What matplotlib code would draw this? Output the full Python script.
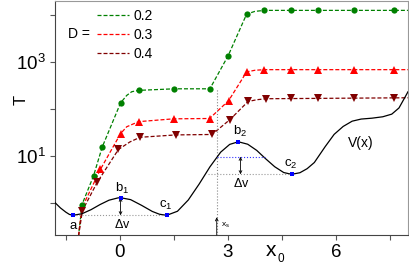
import matplotlib.pyplot as plt
from matplotlib.lines import Line2D
from matplotlib.ticker import FixedLocator, FixedFormatter, NullFormatter

plt.rcParams['font.family'] = 'Liberation Sans'
plt.rcParams['mathtext.fontset'] = 'custom'
plt.rcParams['mathtext.rm'] = 'Liberation Sans'
plt.rcParams['mathtext.it'] = 'Liberation Sans:italic'
plt.rcParams['mathtext.default'] = 'regular'

# T(x0) for D = 0.2, 0.3, 0.4 : markers
g_x = [-1.05, -0.73, -0.49, 0.02, 0.52, 1.51, 2.5, 3.01, 3.52, 4.01, 4.74, 5.5, 6.5, 7.6]
g_T = [0.93, 3.8, 15.5, 135, 250, 270, 270, 1380, 10500, 12600, 12600, 12600, 12600, 12600]
r_x = [-0.54, 0.02, 0.52, 1.49, 2.49, 3.02, 3.52, 4.01, 4.75, 5.5, 6.5, 7.6]
r_T = [5.2, 30, 54, 62, 63, 151, 617, 690, 690, 690, 690, 690]
d_x = [-1.04, -0.63, -0.04, 0.56, 1.56, 2.56, 3.06, 3.56, 4.06, 4.75, 5.5, 6.5, 7.6]
d_T = [0.69, 2.75, 13.8, 25.1, 28.2, 28.8, 60, 145, 166, 174, 174, 174, 174]

# dashed guide curves
g_line_x = [-1.17, -1.05, -0.73, -0.49, 0.02, 0.19, 0.33, 0.52, 1.51, 2.5, 3.01, 3.52, 3.75, 4.01, 8.0]
g_line_T = [0.14, 0.93, 3.8, 15.5, 135, 195, 234, 250, 270, 270, 1380, 10500, 12000, 12600, 12600]
r_line_x = [-1.17, -1.05, -0.54, 0.02, 0.19, 0.52, 1.49, 2.49, 3.02, 3.52, 3.75, 4.01, 8.0]
r_line_T = [0.15, 0.8, 5.2, 30, 42, 54, 62, 63, 151, 617, 670, 690, 690]
d_line_x = [-1.17, -1.04, -0.63, -0.04, 0.28, 0.56, 1.56, 2.56, 3.06, 3.56, 3.8, 4.06, 8.0]
d_line_T = [0.15, 0.69, 2.75, 13.8, 20, 25.1, 28.2, 28.8, 60, 145, 158, 166, 174]

# potential V(x), arbitrary units (depth of first well = 1)
v_x = [-1.8, -1.65, -1.5, -1.4, -1.3, -1.05, -0.8, -0.55, -0.3, -0.05, 0.02, 0.3, 0.6, 0.9,
       1.1, 1.3, 1.6, 1.9, 2.2, 2.5, 2.8, 3.05, 3.29, 3.55, 3.8, 4.05, 4.3, 4.55, 4.77,
       5.0, 5.2, 5.4, 5.7, 5.95, 6.2, 6.45, 6.7, 7.0, 7.3, 7.55, 7.75, 7.9, 8.0]
v_y = [0.72, 0.42, 0.18, 0.05, 0.0, 0.09, 0.32, 0.61, 0.86, 0.99, 1.0, 0.89, 0.57, 0.22,
       0.06, 0.0, 0.23, 0.87, 1.77, 2.75, 3.59, 4.03, 4.18, 4.04, 3.69, 3.21, 2.76, 2.43, 2.33,
       2.42, 2.65, 3.0, 3.9, 4.6, 5.05, 5.35, 5.47, 5.52, 5.6, 5.75, 6.1, 6.65, 7.02]

# points a, b1, c1, b2, c2
pt_names = ['a', 'b$_1$', 'c$_1$', 'b$_2$', 'c$_2$']
pt_x = [-1.3, 0.02, 1.3, 3.29, 4.77]
pt_v = [0.0, 1.0, 0.0, 4.18, 2.33]
x_s = 2.69
dv_level = 3.33

fig = plt.figure(figsize=(4.09, 2.70), dpi=100)
ax = fig.add_axes([0.1345, 0.1296, 0.863, 0.8667])
ax.set_yscale('log')
ax.set_xlim(-1.8, 8.0)
ax.set_ylim(10**-0.68, 10**4.3)

dash = (0, (3.2, 1.6))
ax.plot(g_line_x, g_line_T, color='#008000', ls=dash, lw=0.9)
ax.plot(r_line_x, r_line_T, color='#ff0000', ls=dash, lw=0.9)
ax.plot(d_line_x, d_line_T, color='#800000', ls=dash, lw=0.9)
ax.plot(g_x, g_T, 'o', color='#008000', ms=4.5, mew=0)
ax.plot(r_x, r_T, '^', color='#ff0000', ms=5.5, mew=0)
ax.plot(d_x, d_T, 'v', color='#800000', ms=5.5, mew=0)

# vertical dotted line at x_s
ax.plot([x_s, x_s], [0.1, g_T[5]], color='#888888', ls=':', lw=0.8)

ax.xaxis.set_major_locator(FixedLocator([0, 3, 6]))
ax.xaxis.set_minor_locator(FixedLocator([-1.5, 1.5, 4.5, 7.5]))
ax.yaxis.set_major_locator(FixedLocator([10, 1000]))
ax.yaxis.set_major_formatter(FixedFormatter(['$10^1$', '$10^3$']))
ax.yaxis.set_minor_locator(FixedLocator([1, 100, 10000]))
ax.yaxis.set_minor_formatter(NullFormatter())
ax.tick_params(which='both', direction='out', length=3.5, width=0.8, color='#555555',
               labelsize=13.5, pad=3)
for s in ['left', 'bottom']:
    ax.spines[s].set_color('#444444')
for s in ['top', 'right']:
    ax.spines[s].set_color('#999999')

ax.text(-0.097, 0.577, 'T', transform=ax.transAxes, rotation=90, fontsize=12,
        ha='center', va='center')
ax.text(0.612, -0.0675, 'x', transform=ax.transAxes, fontsize=15, ha='center', va='center')
ax.text(0.640, -0.103, '0', transform=ax.transAxes, fontsize=8.5, ha='center', va='center')

# legend
handles = [Line2D([], [], color=c, ls=dash, lw=0.9) for c in ['#008000', '#ff0000', '#800000']]
ax.legend(handles, ['0.2', '0.3', '0.4'], loc='upper left', bbox_to_anchor=(0.12, 0.965),
          frameon=False, fontsize=10, handlelength=2.3, handletextpad=0.3,
          labelspacing=0.35, borderpad=0, borderaxespad=0)
ax.text(0.037, 0.857, 'D =', transform=ax.transAxes, fontsize=10, ha='left', va='center')

# potential on its own linear scale
av = ax.twinx()
av.set_ylim(-1.12, 12.18)
av.set_axis_off()
av.plot(v_x, v_y, color='black', lw=0.9)
av.plot([pt_x[0], pt_x[2]], [pt_v[0], pt_v[2]], color='#999999', ls=':', lw=0.8)
av.plot([2.45, pt_x[4]], [pt_v[4], pt_v[4]], color='#999999', ls=':', lw=0.8)
av.plot([x_s, 4.03], [dv_level, dv_level], color='#3333ff', ls=':', lw=0.8)
av.plot(pt_x, pt_v, 's', color='#0000ff', ms=3.2, mew=0, zorder=5)

arr = dict(arrowstyle='<->', lw=0.6, color='black', shrinkA=0, shrinkB=0, mutation_scale=5)
av.annotate('', xy=(pt_x[1], 0.0), xytext=(pt_x[1], pt_v[1]), arrowprops=arr)
av.annotate('', xy=(3.35, pt_v[4]), xytext=(3.35, dv_level), arrowprops=arr)
av.annotate('', xy=(x_s, -0.11), xytext=(x_s, -1.12),
            arrowprops=dict(arrowstyle='->', lw=0.6, color='black', shrinkA=0, shrinkB=0,
                            mutation_scale=5))

label_x = [-1.3, 0.07, 1.28, 3.35, 4.75]
label_v = [-0.6, 1.55, 0.58, 4.78, 2.9]
for name, lx, lv in zip(pt_names, label_x, label_v):
    av.text(lx, lv, name, fontsize=9.5, ha='center', va='center')
av.text(0.08, -0.5, '$\\Delta$v', fontsize=9, ha='center', va='center')
av.text(3.38, 1.8, '$\\Delta$v', fontsize=9, ha='center', va='center')
av.text(2.92, -0.6, 'x$_s$', fontsize=6, ha='center', va='center')
av.text(6.69, 4.1, 'V(x)', fontsize=10, ha='center', va='center')

fig.savefig('out.png', dpi=100)
